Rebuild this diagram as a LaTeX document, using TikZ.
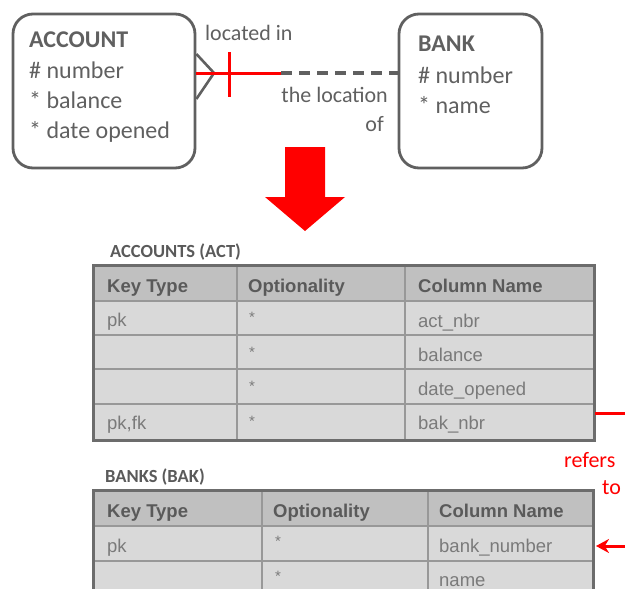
\documentclass[tikz,border=0pt]{standalone}
\usepackage{fontspec}
\setmainfont{Carlito}
\newfontfamily\tabfont{Liberation Sans}
\usetikzlibrary{arrows.meta,calc}
\definecolor{ink}{HTML}{606060}
\definecolor{hdrfill}{HTML}{C0C0C0}
\definecolor{rowfill}{HTML}{D9D9D9}
\definecolor{gridc}{HTML}{989898}
\definecolor{framec}{HTML}{6C6C6C}
\definecolor{hdrtext}{HTML}{5A5A5A}
\definecolor{bodytext}{HTML}{7A7A7A}
\definecolor{fkred}{HTML}{FF0000}
\tikzset{
  entity/.style={draw=ink, line width=2.8pt, rounded corners=20pt, inner sep=0pt},
  etitle/.style={anchor=base west, inner sep=0pt, text=ink, font=\fontsize{24}{26}\selectfont\bfseries},
  eattr/.style={anchor=base west, inner sep=0pt, text=ink, font=\fontsize{24}{26}\selectfont},
  rellabel/.style={inner sep=0pt, text=ink, font=\fontsize{22}{24}\selectfont},
  ttitle/.style={anchor=base west, inner sep=0pt, text=hdrtext, font=\fontsize{18.5}{20}\selectfont\bfseries},
  thead/.style={anchor=base west, inner sep=0pt, text=hdrtext, font=\tabfont\fontsize{18.5}{20}\selectfont\bfseries},
  tcell/.style={anchor=base west, inner sep=0pt, text=bodytext, font=\tabfont\fontsize{18.5}{20}\selectfont},
  tstar/.style={inner sep=0pt, text=bodytext, font=\tabfont\fontsize{15}{15}\selectfont},
  tgrid/.style={draw=gridc, line width=1.4pt},
  tframe/.style={draw=framec, line width=3pt},
  redlabel/.style={anchor=base west, inner sep=0pt, text=fkred, font=\fontsize{22}{24}\selectfont},
  redline/.style={draw=fkred, line width=3pt},
}
\begin{document}
\begin{tikzpicture}[x=1pt,y=-1pt]
\useasboundingbox (0,0) rectangle (625,589);
\clip (0,0) rectangle (625,589);

% ---- entities ----
\node[entity, minimum width=182pt, minimum height=154pt] (acc) at (104,91) {};
\node[etitle] (accT) at (29,47) {ACCOUNT};
\node[eattr] (accA) at (29,78) {\# number};
\node[eattr] (accB) at (29,108) {* balance};
\node[eattr] (accC) at (29,138) {* date opened};

\node[entity, minimum width=143pt, minimum height=154pt] (bank) at (470.5,91) {};
\node[etitle] (bankT) at (418,52) {BANK};
\node[eattr] (bankA) at (418,83) {\# number};
\node[eattr] (bankB) at (418,113) {* name};

% ---- relationship ----
\coordinate (rA) at (acc.east |- 0,73);
\coordinate (rTip) at (214,73);
\coordinate (rMid) at (281,73);
\coordinate (rB) at (bank.west |- 0,73);
\draw[ink, line width=2.6pt] ($(acc.east)+(0,-37)$) -- (rTip) -- ($(acc.east)+(0,8)$);
\draw[redline] (rA) -- (rMid);
\draw[redline] (229,52) -- (229,97);
\draw[ink, line width=3.4pt, dash pattern=on 11pt off 7pt] (rMid) -- (rB);
\node[rellabel, anchor=base west] (lblIn) at (205,41) {located in};
\node[rellabel, anchor=base east] (lblOf1) at (388,102) {the location};
\node[rellabel, anchor=base east] (lblOf2) at (384,131) {of};

% ---- transformation arrow ----
\fill[fkred] (285,147) -- (325,147) -- (325,197) -- (345,197) -- (305,231)
  -- (265,197) -- (285,197) -- cycle;

% ---- table ACCOUNTS ----
\node[ttitle] (t1title) at (110,257) {ACCOUNTS (ACT)};
\fill[rowfill] (93,265) rectangle (594,440);
\fill[hdrfill] (93,265) rectangle (594,301);
\draw[tgrid] (93,301) -- (594,301) (93,335) -- (594,335) (93,369) -- (594,369) (93,404) -- (594,404);
\draw[tgrid] (237,265) -- (237,440) (405,265) -- (405,440);
\draw[tframe] (93,265) rectangle (594,440);
\node[thead] (t1h1) at (107,292) {Key Type};
\node[thead] (t1h2) at (248,292) {Optionality};
\node[thead] (t1h3) at (418,292) {Column Name};
\node[tcell] (t1k1) at (107,326) {pk};
\node[tcell] (t1k4) at (107,429) {pk,fk};
\node[tstar] (t1s1) at (252,317) {*};
\node[tstar] (t1s2) at (252,352) {*};
\node[tstar] (t1s3) at (252,386) {*};
\node[tstar] (t1s4) at (252,421) {*};
\node[tcell] (t1c1) at (418,327) {act\_nbr};
\node[tcell] (t1c2) at (418,361) {balance};
\node[tcell] (t1c3) at (418,395) {date\_opened};
\node[tcell] (t1c4) at (418,429) {bak\_nbr};
\coordinate (fkStart) at (595,413);
\coordinate (fkEnd) at (625,413);
\draw[redline] (fkStart) -- (fkEnd);

% ---- table BANKS ----
\node[ttitle] (t2title) at (105,482) {BANKS (BAK)};
\fill[rowfill] (93,490) rectangle (593,600);
\fill[hdrfill] (93,490) rectangle (593,526);
\draw[tgrid] (93,526) -- (593,526) (93,561) -- (593,561);
\draw[tgrid] (262,490) -- (262,600) (428,490) -- (428,600);
\draw[tframe] (93,600) -- (93,490) -- (593,490) -- (593,600);
\node[thead] (t2h1) at (107,517) {Key Type};
\node[thead] (t2h2) at (273,517) {Optionality};
\node[thead] (t2h3) at (439,517) {Column Name};
\node[tcell] (t2k1) at (107,552) {pk};
\node[tstar] (t2s1) at (278,541) {*};
\node[tstar] (t2s2) at (278,576) {*};
\node[tcell] (t2c1) at (439,552) {bank\_number};
\node[tcell] (t2c2) at (439,586) {name};

% ---- foreign key reference ----
\node[redlabel] (ref1) at (564,467) {refers};
\node[redlabel] (ref2) at (602,494) {to};
\coordinate (pkFrom) at (625,546);
\coordinate (pkTo) at (596,546);
\draw[redline, -{Stealth[length=13pt,width=14pt]}] (pkFrom) -- (pkTo);
\end{tikzpicture}
\end{document}
